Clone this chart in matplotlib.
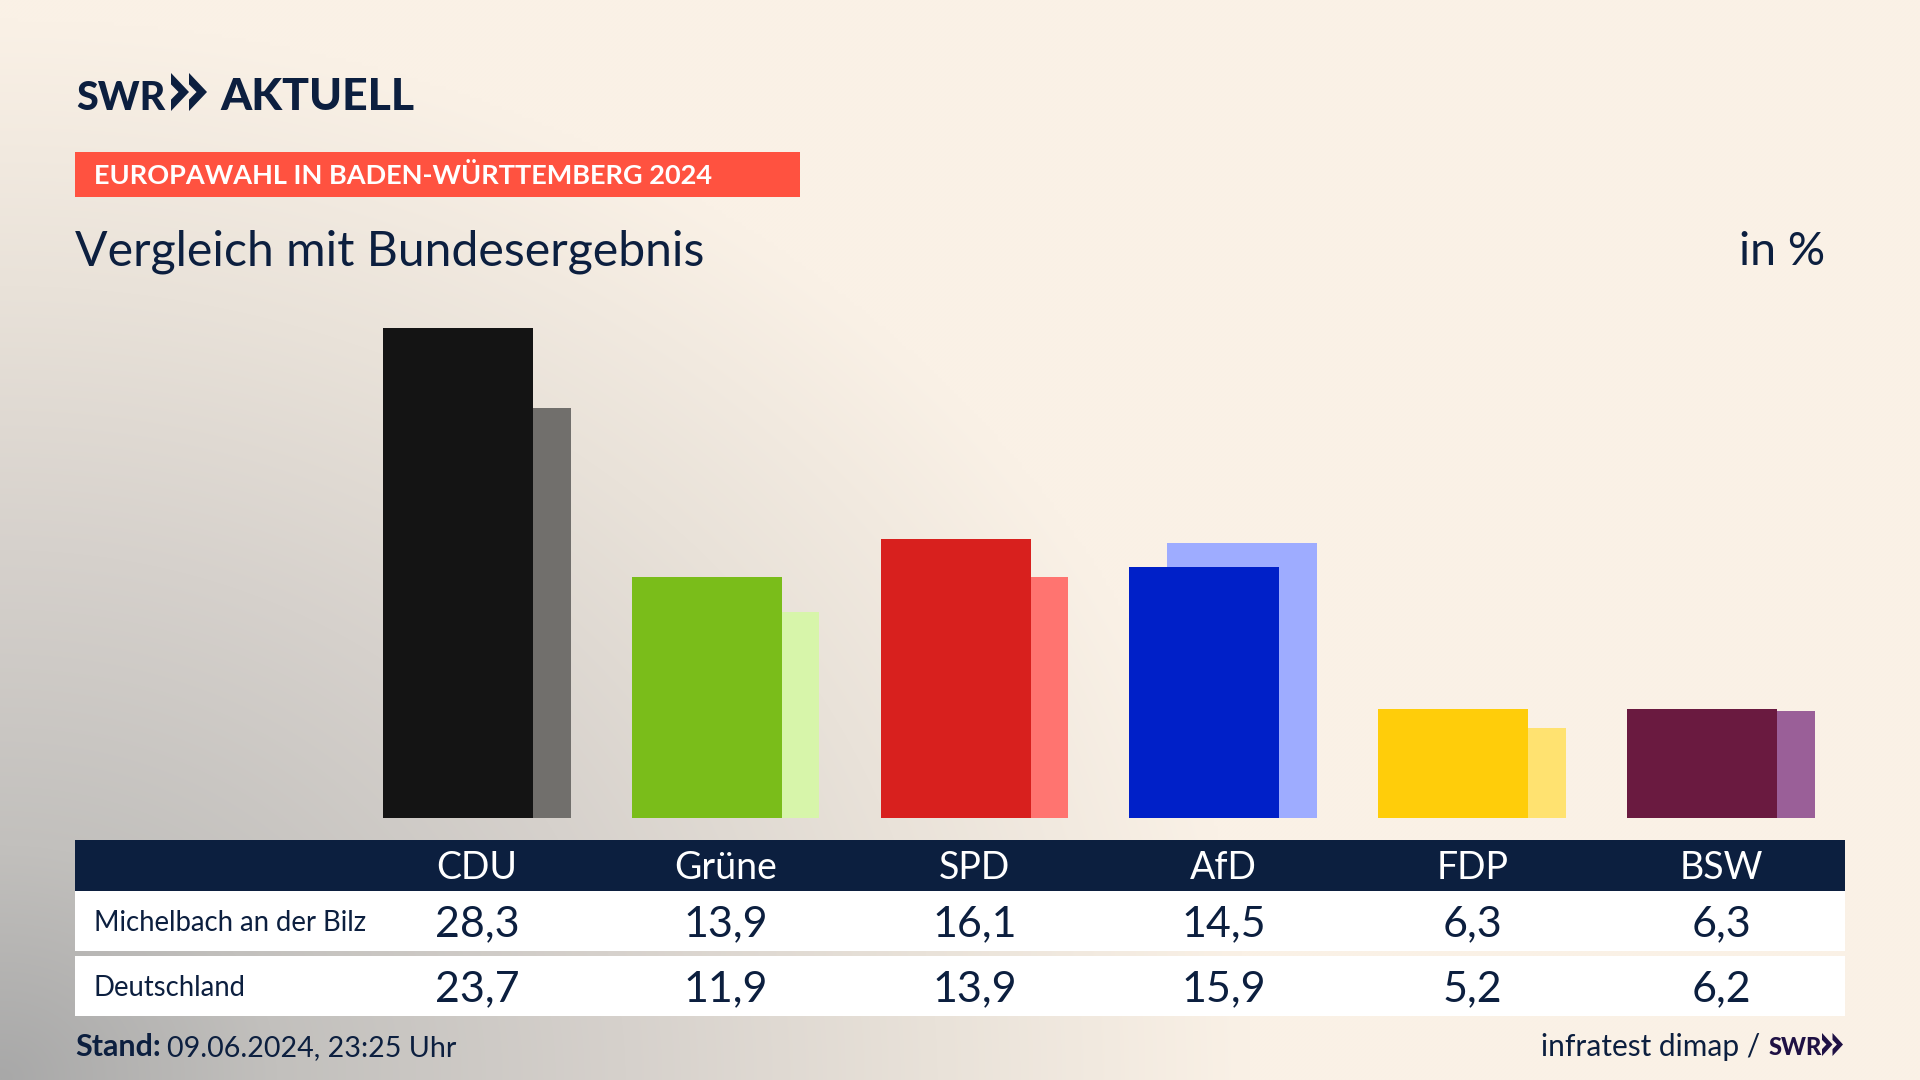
import numpy as np
import matplotlib
matplotlib.use("Agg")
import matplotlib.pyplot as plt
from matplotlib.patches import Rectangle, Polygon

parties = ["CDU", "Grüne", "SPD", "AfD", "FDP", "BSW"]
local_values = [28.3, 13.9, 16.1, 14.5, 6.3, 6.3]
national_values = [23.7, 11.9, 13.9, 15.9, 5.2, 6.2]
local_colors = ["#141414", "#7ABD1A", "#D8201E", "#0020C8", "#FFCD0A", "#6A1A40"]
national_colors = ["#716F6C", "#D7F5AA", "#FF7470", "#9EACFF", "#FFE270", "#9A5F98"]
row_labels = ["Michelbach an der Bilz", "Deutschland"]

NAVY = "#0C1F3F"
W, H = 1920, 1080
PITCH = 248.8
C0 = 477
FONT = "Lato"

fig = plt.figure(figsize=(19.2, 10.8), dpi=100)

# page layer in pixel coordinates
bg = fig.add_axes([0, 0, 1, 1], zorder=0)
bg.set_xlim(0, W); bg.set_ylim(H, 0); bg.axis("off")

xx, yy = np.meshgrid(np.linspace(0, W, 480), np.linspace(0, H, 270))
t = np.clip(np.sqrt((xx / 1250) ** 2 + ((H - yy) / 1060) ** 2), 0, 1)
stops = np.array([0, .22, .5, .75, 1])
cols = np.array([[0xA8, 0xA8, 0xA8], [0xC2, 0xC0, 0xBD], [0xD6, 0xD1, 0xCC], [0xE9, 0xE2, 0xD9], [0xFA, 0xF1, 0xE6]]) / 255
img = np.stack([np.interp(t, stops, cols[:, k]) for k in range(3)], axis=2)
bg.imshow(img, extent=(0, W, H, 0), aspect="auto", interpolation="bilinear", zorder=0)
bg.set_xlim(0, W); bg.set_ylim(H, 0)


def chevrons(x, top, bottom, width, color):
    mid = (top + bottom) / 2
    h = bottom - top
    for k in range(2):
        x0 = x + k * width
        bg.add_patch(Polygon([(x0, top), (x0 + width, mid), (x0, bottom), (x0, bottom - .3 * h),
                              (x0 + .42 * width, mid), (x0, top + .3 * h)],
                             closed=True, fc=color, ec="none", zorder=3))


# logo
bg.text(76, 110, "SWR", family=FONT, weight=900, fontsize=28.5, color=NAVY, va="baseline", ha="left", zorder=3)
chevrons(171, 73, 111, 18, NAVY)
bg.text(220, 110, "AKTUELL", family=FONT, weight=900, fontsize=32, color=NAVY, va="baseline", ha="left", zorder=3)

# banner and title
bg.add_patch(Rectangle((75, 152), 725, 45, fc="#FF5240", ec="none", zorder=2))
bg.text(94, 184, "EUROPAWAHL IN BADEN-WÜRTTEMBERG 2024", family=FONT, weight="bold", fontsize=19.5,
        color="white", va="baseline", ha="left", zorder=3)
bg.text(75, 265, "Vergleich mit Bundesergebnis", family=FONT, fontsize=34.7, color=NAVY, va="baseline", ha="left", zorder=3)
bg.text(1825, 265, "in %", family=FONT, fontsize=33.5, color=NAVY, va="baseline", ha="right", zorder=3)

# table
bg.add_patch(Rectangle((75, 840), 1770, 51, fc=NAVY, ec="none", zorder=2))
bg.add_patch(Rectangle((75, 891), 1770, 60, fc="white", ec="none", zorder=2))
bg.add_patch(Rectangle((75, 956), 1770, 60, fc="white", ec="none", zorder=2))
bg.text(94, 931, row_labels[0], family=FONT, fontsize=19.8, color=NAVY, va="baseline", ha="left", zorder=3)
bg.text(94, 996, row_labels[1], family=FONT, fontsize=19.8, color=NAVY, va="baseline", ha="left", zorder=3)
for i, name in enumerate(parties):
    cx = C0 + i * PITCH
    bg.text(cx, 879, name, family=FONT, fontsize=27, color="white", va="baseline", ha="center", zorder=3)
    bg.text(cx, 936, f"{local_values[i]:.1f}".replace(".", ","), family=FONT, fontsize=31, color=NAVY,
            va="baseline", ha="center", zorder=3)
    bg.text(cx, 1001, f"{national_values[i]:.1f}".replace(".", ","), family=FONT, fontsize=31, color=NAVY,
            va="baseline", ha="center", zorder=3)

# footer
bg.text(75, 1056, "Stand:", family=FONT, weight="bold", fontsize=22, color=NAVY, va="baseline", ha="left", zorder=3)
bg.text(167, 1056, "09.06.2024, 23:25 Uhr", family=FONT, fontsize=20.6, color=NAVY, va="baseline", ha="left", zorder=3)
bg.text(1760, 1056, "infratest dimap /", family=FONT, fontsize=21.5, color=NAVY, va="baseline", ha="right", zorder=3)
bg.text(1769, 1055, "SWR", family=FONT, weight=900, fontsize=17, color="#1F1144", va="baseline", ha="left", zorder=3)
chevrons(1822, 1033, 1056, 10.5, "#1F1144")

# bars, on their own axes
ax = fig.add_axes([75 / W, 1 - 818 / H, 1770 / W, 490 / H], zorder=1)
ax.patch.set_alpha(0)
ax.set_xlim((75 - C0) / PITCH, (1845 - C0) / PITCH)
ax.set_ylim(0, 28.3)
ax.axis("off")
bar_w = 150 / PITCH
x = np.arange(len(parties))
ax.bar(x + 18.5 / PITCH, national_values, width=bar_w, color=national_colors, linewidth=0, zorder=1)
ax.bar(x - 19.0 / PITCH, local_values, width=bar_w, color=local_colors, linewidth=0, zorder=2)

fig.savefig("out.png", dpi=100)
